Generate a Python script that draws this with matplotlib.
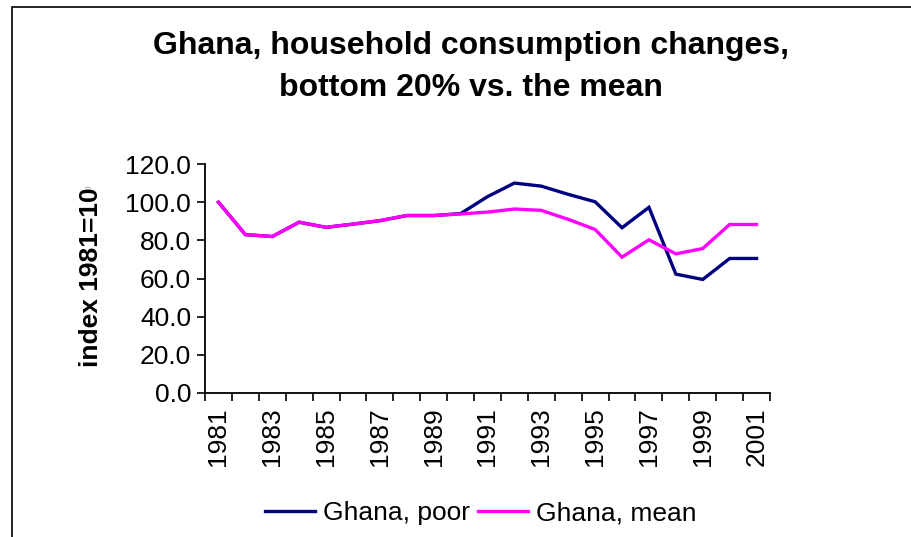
import matplotlib
matplotlib.use('Agg')
import matplotlib.pyplot as plt
from matplotlib.patches import Rectangle
from matplotlib.transforms import Bbox, TransformedBbox

# data (index 1981=100)
years = list(range(1981, 2002))
poor = [100.0, 83.0, 82.0, 89.5, 86.8, 88.5, 90.3, 93.0, 93.0, 94.0, 102.9,
        110.0, 108.4, 104.1, 100.2, 86.6, 97.3, 62.3, 59.5, 70.5, 70.5]
mean = [100.0, 83.0, 82.0, 89.5, 86.8, 88.5, 90.3, 93.0, 93.0, 93.8, 94.8,
        96.4, 95.7, 91.0, 85.7, 71.2, 80.3, 72.9, 75.7, 88.3, 88.3]
yticks = [0, 20, 40, 60, 80, 100, 120]

plt.rcParams['font.family'] = ['Liberation Sans', 'DejaVu Sans']

W, H = 911, 537
fig = plt.figure(figsize=(W / 100, H / 100), dpi=100)

# outer chart border (right and bottom edges fall outside the picture)
fig.patches.append(Rectangle((11.5 / W, -0.1), 1.2, 1 - 7 / H + 0.1,
                             transform=fig.transFigure, fill=False,
                             edgecolor='black', linewidth=1.2))

ax = fig.add_axes([205 / W, 1 - 393 / H, 565 / W, 229 / H])
x = list(range(len(years)))
ax.plot(x, poor, color='#000080', linewidth=2.4, label='Ghana, poor', solid_joinstyle='miter')
ax.plot(x, mean, color='#FF00FF', linewidth=2.4, label='Ghana, mean', solid_joinstyle='miter')

ax.set_xlim(-0.5, len(years) - 0.5)
ax.set_ylim(0, 120)
ax.set_yticks(yticks)
ax.set_yticklabels([f'{v:.1f}' for v in yticks], fontsize=19)
ax.set_xticks(x[::2])
ax.set_xticklabels([str(y) for y in years[::2]], rotation=90, fontsize=19)
ax.set_xticks([i - 0.5 for i in range(len(years) + 1)], minor=True)
ax.tick_params(axis='x', which='major', length=0, pad=10)
ax.tick_params(axis='x', which='minor', length=6, width=1.2, direction='out')
ax.tick_params(axis='y', length=6, width=1.2, direction='out', pad=4)
for s in ['top', 'right']:
    ax.spines[s].set_visible(False)
for s in ['left', 'bottom']:
    ax.spines[s].set_linewidth(1.3)

fig.text(471 / W, 1 - 67 / H, 'Ghana, household consumption changes,\nbottom 20% vs. the mean',
         ha='center', va='center', fontsize=23, fontweight='bold', linespacing=1.55)

# y label is cut off at the top in the original
ylab = fig.text(91 / W, 1 - 367 / H, 'index 1981=100', rotation=90, ha='center', va='bottom',
                fontsize=19, fontweight='bold')
ylab.set_clip_box(TransformedBbox(Bbox([[0, 0], [1, 1 - 187 / H]]), fig.transFigure))
ylab.set_clip_on(True)

fig.legend(loc='center', bbox_to_anchor=(481 / W, 1 - 513 / H), ncol=2, frameon=False,
           fontsize=19, handlelength=1.9, handletextpad=0.3, columnspacing=0.3)

fig.savefig('out.png', dpi=100)
